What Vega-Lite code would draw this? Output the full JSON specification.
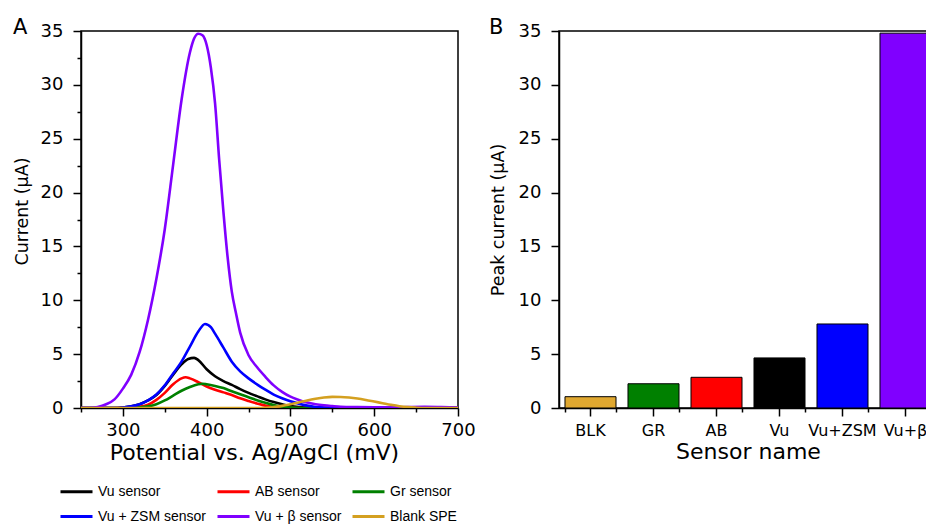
{
  "$schema": "https://vega.github.io/schema/vega-lite/v6.json",
  "padding": {"left": 12, "top": 16, "right": 0, "bottom": 0},
  "background": "white",
  "config": {
    "font": "DejaVu Sans",
    "view": {"stroke": "black", "strokeWidth": 1.5},
    "axis": {"domainColor": "black", "domainWidth": 1.5, "tickColor": "black", "tickWidth": 1.5, "labelColor": "black", "titleColor": "black", "labelFont": "DejaVu Sans", "titleFont": "DejaVu Sans", "labelFontSize": 18, "titleFontSize": 20, "titleFontWeight": "normal", "grid": false}
  },
  "spacing": 12,
  "resolve": {"scale": {"color": "independent"}, "legend": {"color": "independent"}},
  "datasets": {
    "curves": [
      {"s": "Vu  sensor", "x": 250, "y": 0}, {"s": "Vu  sensor", "x": 290, "y": 0}, {"s": "Vu  sensor", "x": 300, "y": 0.05}, {"s": "Vu  sensor", "x": 310, "y": 0.15}, {"s": "Vu  sensor", "x": 320, "y": 0.35}, {"s": "Vu  sensor", "x": 330, "y": 0.7}, {"s": "Vu  sensor", "x": 340, "y": 1.2}, {"s": "Vu  sensor", "x": 350, "y": 2.05}, {"s": "Vu  sensor", "x": 360, "y": 3.1}, {"s": "Vu  sensor", "x": 370, "y": 4.05}, {"s": "Vu  sensor", "x": 378, "y": 4.55}, {"s": "Vu  sensor", "x": 385, "y": 4.65}, {"s": "Vu  sensor", "x": 390, "y": 4.45}, {"s": "Vu  sensor", "x": 400, "y": 3.6}, {"s": "Vu  sensor", "x": 410, "y": 2.95}, {"s": "Vu  sensor", "x": 420, "y": 2.5}, {"s": "Vu  sensor", "x": 430, "y": 2.15}, {"s": "Vu  sensor", "x": 440, "y": 1.75}, {"s": "Vu  sensor", "x": 450, "y": 1.4}, {"s": "Vu  sensor", "x": 460, "y": 1.1}, {"s": "Vu  sensor", "x": 470, "y": 0.8}, {"s": "Vu  sensor", "x": 480, "y": 0.55}, {"s": "Vu  sensor", "x": 490, "y": 0.35}, {"s": "Vu  sensor", "x": 500, "y": 0.18}, {"s": "Vu  sensor", "x": 510, "y": 0.08}, {"s": "Vu  sensor", "x": 520, "y": 0.03}, {"s": "Vu  sensor", "x": 530, "y": 0}, {"s": "Vu  sensor", "x": 700, "y": 0},
      {"s": "AB  sensor", "x": 250, "y": 0}, {"s": "AB  sensor", "x": 290, "y": 0}, {"s": "AB  sensor", "x": 300, "y": 0.02}, {"s": "AB  sensor", "x": 310, "y": 0.05}, {"s": "AB  sensor", "x": 320, "y": 0.12}, {"s": "AB  sensor", "x": 330, "y": 0.3}, {"s": "AB  sensor", "x": 340, "y": 0.75}, {"s": "AB  sensor", "x": 350, "y": 1.4}, {"s": "AB  sensor", "x": 360, "y": 2.2}, {"s": "AB  sensor", "x": 370, "y": 2.75}, {"s": "AB  sensor", "x": 375, "y": 2.85}, {"s": "AB  sensor", "x": 380, "y": 2.75}, {"s": "AB  sensor", "x": 390, "y": 2.4}, {"s": "AB  sensor", "x": 400, "y": 2.0}, {"s": "AB  sensor", "x": 410, "y": 1.7}, {"s": "AB  sensor", "x": 420, "y": 1.45}, {"s": "AB  sensor", "x": 430, "y": 1.2}, {"s": "AB  sensor", "x": 440, "y": 0.9}, {"s": "AB  sensor", "x": 450, "y": 0.65}, {"s": "AB  sensor", "x": 460, "y": 0.42}, {"s": "AB  sensor", "x": 470, "y": 0.22}, {"s": "AB  sensor", "x": 480, "y": 0.1}, {"s": "AB  sensor", "x": 490, "y": 0.03}, {"s": "AB  sensor", "x": 500, "y": 0}, {"s": "AB  sensor", "x": 700, "y": 0},
      {"s": "Gr  sensor", "x": 250, "y": 0}, {"s": "Gr  sensor", "x": 300, "y": 0}, {"s": "Gr  sensor", "x": 310, "y": 0.02}, {"s": "Gr  sensor", "x": 320, "y": 0.06}, {"s": "Gr  sensor", "x": 330, "y": 0.15}, {"s": "Gr  sensor", "x": 340, "y": 0.35}, {"s": "Gr  sensor", "x": 350, "y": 0.7}, {"s": "Gr  sensor", "x": 360, "y": 1.15}, {"s": "Gr  sensor", "x": 370, "y": 1.6}, {"s": "Gr  sensor", "x": 380, "y": 1.95}, {"s": "Gr  sensor", "x": 390, "y": 2.2}, {"s": "Gr  sensor", "x": 395, "y": 2.25}, {"s": "Gr  sensor", "x": 400, "y": 2.2}, {"s": "Gr  sensor", "x": 410, "y": 2.05}, {"s": "Gr  sensor", "x": 420, "y": 1.85}, {"s": "Gr  sensor", "x": 430, "y": 1.55}, {"s": "Gr  sensor", "x": 440, "y": 1.28}, {"s": "Gr  sensor", "x": 450, "y": 1.0}, {"s": "Gr  sensor", "x": 460, "y": 0.72}, {"s": "Gr  sensor", "x": 470, "y": 0.48}, {"s": "Gr  sensor", "x": 480, "y": 0.27}, {"s": "Gr  sensor", "x": 490, "y": 0.12}, {"s": "Gr  sensor", "x": 500, "y": 0.04}, {"s": "Gr  sensor", "x": 510, "y": 0}, {"s": "Gr  sensor", "x": 700, "y": 0},
      {"s": "Vu + ZSM sensor", "x": 250, "y": 0}, {"s": "Vu + ZSM sensor", "x": 290, "y": 0}, {"s": "Vu + ZSM sensor", "x": 300, "y": 0.05}, {"s": "Vu + ZSM sensor", "x": 310, "y": 0.15}, {"s": "Vu + ZSM sensor", "x": 320, "y": 0.35}, {"s": "Vu + ZSM sensor", "x": 330, "y": 0.7}, {"s": "Vu + ZSM sensor", "x": 340, "y": 1.25}, {"s": "Vu + ZSM sensor", "x": 350, "y": 2.1}, {"s": "Vu + ZSM sensor", "x": 360, "y": 3.2}, {"s": "Vu + ZSM sensor", "x": 370, "y": 4.3}, {"s": "Vu + ZSM sensor", "x": 380, "y": 5.7}, {"s": "Vu + ZSM sensor", "x": 390, "y": 7.1}, {"s": "Vu + ZSM sensor", "x": 398, "y": 7.8}, {"s": "Vu + ZSM sensor", "x": 405, "y": 7.5}, {"s": "Vu + ZSM sensor", "x": 410, "y": 6.9}, {"s": "Vu + ZSM sensor", "x": 420, "y": 5.6}, {"s": "Vu + ZSM sensor", "x": 430, "y": 4.3}, {"s": "Vu + ZSM sensor", "x": 440, "y": 3.4}, {"s": "Vu + ZSM sensor", "x": 450, "y": 2.75}, {"s": "Vu + ZSM sensor", "x": 460, "y": 2.2}, {"s": "Vu + ZSM sensor", "x": 470, "y": 1.7}, {"s": "Vu + ZSM sensor", "x": 480, "y": 1.25}, {"s": "Vu + ZSM sensor", "x": 490, "y": 0.9}, {"s": "Vu + ZSM sensor", "x": 500, "y": 0.62}, {"s": "Vu + ZSM sensor", "x": 510, "y": 0.4}, {"s": "Vu + ZSM sensor", "x": 520, "y": 0.22}, {"s": "Vu + ZSM sensor", "x": 530, "y": 0.1}, {"s": "Vu + ZSM sensor", "x": 540, "y": 0.05}, {"s": "Vu + ZSM sensor", "x": 550, "y": 0.02}, {"s": "Vu + ZSM sensor", "x": 560, "y": 0}, {"s": "Vu + ZSM sensor", "x": 700, "y": 0},
      {"s": "Vu + β sensor", "x": 250, "y": 0}, {"s": "Vu + β sensor", "x": 260, "y": 0}, {"s": "Vu + β sensor", "x": 270, "y": 0.1}, {"s": "Vu + β sensor", "x": 280, "y": 0.35}, {"s": "Vu + β sensor", "x": 290, "y": 0.8}, {"s": "Vu + β sensor", "x": 300, "y": 1.8}, {"s": "Vu + β sensor", "x": 310, "y": 3.1}, {"s": "Vu + β sensor", "x": 320, "y": 5.2}, {"s": "Vu + β sensor", "x": 330, "y": 8.2}, {"s": "Vu + β sensor", "x": 340, "y": 12.0}, {"s": "Vu + β sensor", "x": 350, "y": 16.6}, {"s": "Vu + β sensor", "x": 360, "y": 22.6}, {"s": "Vu + β sensor", "x": 370, "y": 28.6}, {"s": "Vu + β sensor", "x": 380, "y": 33.0}, {"s": "Vu + β sensor", "x": 385, "y": 34.3}, {"s": "Vu + β sensor", "x": 390, "y": 34.75}, {"s": "Vu + β sensor", "x": 395, "y": 34.6}, {"s": "Vu + β sensor", "x": 400, "y": 33.7}, {"s": "Vu + β sensor", "x": 405, "y": 31.6}, {"s": "Vu + β sensor", "x": 410, "y": 28.3}, {"s": "Vu + β sensor", "x": 415, "y": 23.0}, {"s": "Vu + β sensor", "x": 420, "y": 18.2}, {"s": "Vu + β sensor", "x": 425, "y": 14.0}, {"s": "Vu + β sensor", "x": 430, "y": 10.8}, {"s": "Vu + β sensor", "x": 435, "y": 8.8}, {"s": "Vu + β sensor", "x": 440, "y": 7.0}, {"s": "Vu + β sensor", "x": 450, "y": 4.9}, {"s": "Vu + β sensor", "x": 460, "y": 3.8}, {"s": "Vu + β sensor", "x": 470, "y": 2.9}, {"s": "Vu + β sensor", "x": 480, "y": 2.1}, {"s": "Vu + β sensor", "x": 490, "y": 1.5}, {"s": "Vu + β sensor", "x": 500, "y": 1.05}, {"s": "Vu + β sensor", "x": 510, "y": 0.75}, {"s": "Vu + β sensor", "x": 520, "y": 0.5}, {"s": "Vu + β sensor", "x": 530, "y": 0.35}, {"s": "Vu + β sensor", "x": 540, "y": 0.25}, {"s": "Vu + β sensor", "x": 550, "y": 0.18}, {"s": "Vu + β sensor", "x": 560, "y": 0.12}, {"s": "Vu + β sensor", "x": 580, "y": 0.08}, {"s": "Vu + β sensor", "x": 600, "y": 0.06}, {"s": "Vu + β sensor", "x": 620, "y": 0.05}, {"s": "Vu + β sensor", "x": 640, "y": 0.08}, {"s": "Vu + β sensor", "x": 660, "y": 0.1}, {"s": "Vu + β sensor", "x": 680, "y": 0.08}, {"s": "Vu + β sensor", "x": 700, "y": 0.05},
      {"s": "Blank SPE", "x": 250, "y": 0}, {"s": "Blank SPE", "x": 460, "y": 0}, {"s": "Blank SPE", "x": 470, "y": 0.03}, {"s": "Blank SPE", "x": 480, "y": 0.1}, {"s": "Blank SPE", "x": 490, "y": 0.2}, {"s": "Blank SPE", "x": 500, "y": 0.35}, {"s": "Blank SPE", "x": 510, "y": 0.52}, {"s": "Blank SPE", "x": 520, "y": 0.7}, {"s": "Blank SPE", "x": 530, "y": 0.85}, {"s": "Blank SPE", "x": 540, "y": 0.97}, {"s": "Blank SPE", "x": 550, "y": 1.03}, {"s": "Blank SPE", "x": 560, "y": 1.02}, {"s": "Blank SPE", "x": 570, "y": 0.97}, {"s": "Blank SPE", "x": 580, "y": 0.88}, {"s": "Blank SPE", "x": 590, "y": 0.75}, {"s": "Blank SPE", "x": 600, "y": 0.6}, {"s": "Blank SPE", "x": 610, "y": 0.45}, {"s": "Blank SPE", "x": 620, "y": 0.3}, {"s": "Blank SPE", "x": 630, "y": 0.17}, {"s": "Blank SPE", "x": 640, "y": 0.08}, {"s": "Blank SPE", "x": 650, "y": 0.03}, {"s": "Blank SPE", "x": 660, "y": 0}, {"s": "Blank SPE", "x": 700, "y": 0}
    ],
    "bars": [
      {"sensor": "BLK", "peak": 1.05},
      {"sensor": "GR", "peak": 2.25},
      {"sensor": "AB", "peak": 2.85},
      {"sensor": "Vu", "peak": 4.65},
      {"sensor": "Vu+ZSM", "peak": 7.8},
      {"sensor": "Vu+β", "peak": 34.8}
    ]
  },
  "hconcat": [
    {
      "width": 377,
      "height": 377,
      "title": {"text": "A", "anchor": "start", "frame": "bounds", "fontSize": 21, "fontWeight": "normal", "font": "DejaVu Sans", "color": "black", "offset": -16},
      "data": {"name": "curves"},
      "mark": {"type": "line", "strokeWidth": 2.6, "clip": true, "interpolate": "monotone"},
      "encoding": {
        "x": {"field": "x", "type": "quantitative", "scale": {"domain": [250, 700], "nice": false, "zero": false},
          "axis": {"title": "Potential vs. Ag/AgCl (mV)", "titleFontSize": 22, "titleX": 173, "values": [250, 300, 350, 400, 450, 500, 550, 600, 650, 700], "labelExpr": "datum.value % 100 === 0 ? datum.label : ''", "tickSize": {"condition": {"test": "datum.value % 100 === 0", "value": 8}, "value": 4}, "labelPadding": 5, "titlePadding": 3, "labelFlush": false}},
        "y": {"field": "y", "type": "quantitative", "scale": {"domain": [0, 35], "nice": false},
          "axis": {"title": "Current (μA)", "titleFontSize": 17.5, "titleY": 180, "values": [0, 2.5, 5, 7.5, 10, 12.5, 15, 17.5, 20, 22.5, 25, 27.5, 30, 32.5, 35], "labelExpr": "datum.value % 5 === 0 ? datum.label : ''", "tickSize": {"condition": {"test": "datum.value % 5 === 0", "value": 8}, "value": 4}, "labelPadding": 10, "titlePadding": 9, "labelFlush": false}},
        "color": {"field": "s", "type": "nominal",
          "scale": {"domain": ["Vu  sensor", "AB  sensor", "Gr  sensor", "Vu + ZSM sensor", "Vu + β sensor", "Blank SPE"], "range": ["#000000", "#ff0000", "#008000", "#0000ff", "#8000ff", "#d4a020"]},
          "legend": {"title": null, "orient": "none", "direction": "horizontal", "legendX": -22, "legendY": 443, "columns": 3, "symbolType": "stroke", "symbolSize": 1024, "symbolStrokeWidth": 3, "labelFont": "Liberation Sans", "labelFontSize": 14, "labelColor": "black", "columnPadding": 4, "rowPadding": -3, "labelOffset": 4, "labelLimit": 200}}
      }
    },
    {
      "width": 378,
      "height": 377,
      "title": {"text": "B", "anchor": "start", "frame": "bounds", "fontSize": 21, "fontWeight": "normal", "font": "DejaVu Sans", "color": "black", "offset": -16},
      "data": {"name": "bars"},
      "layer": [
        {
          "mark": {"type": "bar", "stroke": "black", "strokeWidth": 1},
          "encoding": {
            "x": {"field": "sensor", "type": "nominal", "sort": null, "scale": {"paddingInner": 0.19},
              "axis": {"orient": "bottom", "title": "Sensor name", "labelAngle": 0, "labelFontSize": 16, "titleFontSize": 22, "tickSize": 8, "labelPadding": 6, "titlePadding": 3}},
            "y": {"field": "peak", "type": "quantitative", "scale": {"domain": [0, 35], "nice": false},
              "axis": {"title": "Peak current (μA)", "titleFontSize": 17.5, "values": [0, 2.5, 5, 7.5, 10, 12.5, 15, 17.5, 20, 22.5, 25, 27.5, 30, 32.5, 35], "labelExpr": "datum.value % 5 === 0 ? datum.label : ''", "tickSize": {"condition": {"test": "datum.value % 5 === 0", "value": 8}, "value": 4}, "labelPadding": 10, "titlePadding": 11, "labelFlush": false}},
            "color": {"field": "sensor", "type": "nominal", "scale": {"domain": ["BLK", "GR", "AB", "Vu", "Vu+ZSM", "Vu+β"], "range": ["#e0a830", "#008000", "#ff0000", "#000000", "#0000ff", "#8000ff"]}, "legend": null}
          }
        },
        {
          "mark": {"type": "bar", "opacity": 0},
          "encoding": {
            "x": {"field": "sensor", "type": "nominal", "sort": null,
              "axis": {"orient": "bottom", "title": null, "labels": false, "domain": false, "tickBand": "extent", "tickSize": 4}},
            "y": {"field": "peak", "type": "quantitative"}
          }
        }
      ],
      "resolve": {"axis": {"x": "independent"}}
    }
  ]
}
